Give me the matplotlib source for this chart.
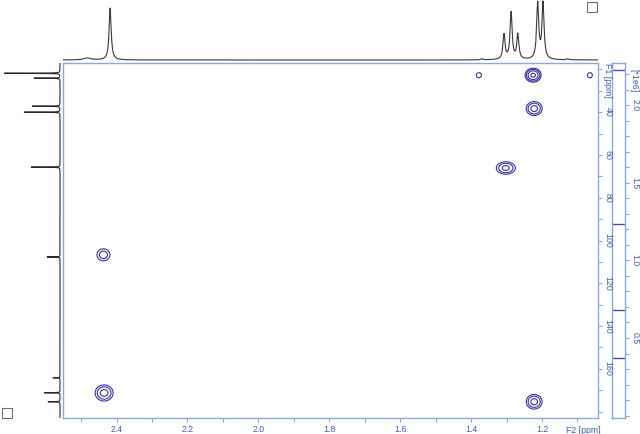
import numpy as np
import matplotlib
matplotlib.use('Agg')
import matplotlib.pyplot as plt
from matplotlib.patches import Rectangle
from matplotlib.ticker import MultipleLocator, FixedLocator

plt.rcParams['font.family'] = ['Liberation Sans', 'DejaVu Sans']

# ---- data ----
# 2D cross peaks
cross_f2 = [1.225, 1.378, 1.065, 1.222, 1.302, 2.437, 2.435, 1.222]
cross_f1 = [22.7, 22.7, 22.7, 38.3, 66.1, 106.7, 171.3, 175.4]
cross_amp = [2.6, 0.6, 0.6, 1.6, 1.5, 1.0, 1.6, 1.6]
cross_sx = [0.0115, 0.0072, 0.0072, 0.0132, 0.016, 0.013, 0.0148, 0.013]
cross_sy = [1.66, 1.2, 1.2, 1.9, 1.75, 2.0, 2.2, 2.0]
contour_levels = [0.371, 0.680, 1.234, 2.226]   # *1e6

# 1H projection (top)
h1_ppm = [2.483, 2.418, 1.369, 1.307, 1.287, 1.268, 1.212, 1.197, 1.127]
h1_height = [2, 52, 1, 25, 47, 25, 56, 56, 1]
h1_width = [0.012, 0.0035, 0.003, 0.0035, 0.0035, 0.0035, 0.0035, 0.0035, 0.003]

# 13C projection (left)
c13_ppm = [21.8, 24.1, 37.2, 40.0, 65.7, 107.7, 164.2, 171.2, 175.4]
c13_height = [56, 26, 28, 36, 29, 13, 7, 16, 12]
c13_width = [0.07] * 9

f2_ticks = [2.4, 2.2, 2.0, 1.8, 1.6, 1.4, 1.2]
f1_ticks = [40, 60, 80, 100, 120, 140, 160]
int_ticks = [0.5, 1.0, 1.5, 2.0]

F2_LIM = (2.551, 1.042)
F1_LIM = (183, 17)
INT_LIM = (-0.015, 2.271)

frame_c = '#8ea6d8'
text_c = '#3f5fae'
cont_c = '#35359c'

W, H = 640, 434
fig = plt.figure(figsize=(W / 100, H / 100), dpi=100)


def px_axes(x0, y0, x1, y1):
    return fig.add_axes([x0 / W, 1 - y1 / H, (x1 - x0) / W, (y1 - y0) / H])


# ---- intensity / level bar (drawn first, transparent) ----
axb = px_axes(612, 63, 625, 418)
axb.patch.set_alpha(0)
axb.set_ylim(*INT_LIM)
axb.set_xlim(0, 1)
for lv in contour_levels:
    axb.axhline(lv, color='#4a4aa8', lw=1.0)
for s in axb.spines.values():
    s.set_color(frame_c)
    s.set_linewidth(1.0)
axb.set_xticks([])
axb.yaxis.tick_right()
axb.yaxis.set_major_locator(FixedLocator(int_ticks))
axb.yaxis.set_minor_locator(MultipleLocator(0.1))
axb.tick_params(axis='y', which='both', direction='out', color=frame_c,
                labelcolor=text_c, labelsize=6.3, length=3, width=0.8, pad=1)
axb.set_yticklabels([f'{t:.1f}' for t in int_ticks], rotation=-90, va='center')
axb.annotate('[*1e6]', xy=(1, 1), xycoords='axes fraction', xytext=(6.5, -13),
             textcoords='offset points', ha='center', va='center', rotation=-90,
             fontsize=6.3, color=text_c, annotation_clip=False)

# ---- main 2D ----
ax = px_axes(63, 63, 598, 418)
ax.patch.set_alpha(0)
xg = np.linspace(1.0, 2.6, 1400)
yg = np.linspace(15, 185, 1000)
X, Y = np.meshgrid(xg, yg)
Z = np.zeros_like(X)
for x0, y0, a, sx, sy in zip(cross_f2, cross_f1, cross_amp, cross_sx, cross_sy):
    Z += a * np.exp(-((X - x0) ** 2) / (2 * sx ** 2) - ((Y - y0) ** 2) / (2 * sy ** 2))
ax.contour(X, Y, Z, levels=contour_levels, colors=cont_c, linewidths=0.8)
ax.set_xlim(*F2_LIM)
ax.set_ylim(*F1_LIM)
for s in ax.spines.values():
    s.set_color(frame_c)
    s.set_linewidth(1.0)
ax.xaxis.set_major_locator(FixedLocator(f2_ticks))
ax.xaxis.set_minor_locator(MultipleLocator(0.1))
ax.yaxis.set_major_locator(FixedLocator(f1_ticks))
ax.yaxis.set_minor_locator(MultipleLocator(10))
ax.yaxis.tick_right()
ax.tick_params(axis='both', which='both', direction='out', color=frame_c,
               labelcolor=text_c, labelsize=6.3, length=3, width=0.8, pad=2)
ax.tick_params(axis='y', which='both', pad=1, length=3)
ax.set_xticklabels([f'{t:.1f}' for t in f2_ticks])
ax.set_yticklabels([f'{t:d}' for t in f1_ticks], rotation=-90, va='center')
ax.annotate('F2 [ppm]', xy=(1.083, 0), xycoords=('data', 'axes fraction'),
            xytext=(0, -9), textcoords='offset points', ha='center', va='center',
            fontsize=6.3, color=text_c, annotation_clip=False)
ax.annotate('F1 [ppm]', xy=(1, 25.0), xycoords=('axes fraction', 'data'),
            xytext=(6.5, 0), textcoords='offset points', ha='center', va='center',
            rotation=-90, fontsize=6.3, color=text_c, annotation_clip=False)

# ---- top 1H projection ----
axt = px_axes(63, 0, 598, 62)
xs = np.linspace(F2_LIM[1], F2_LIM[0], 4000)
spec = np.zeros_like(xs)
for p, h, w in zip(h1_ppm, h1_height, h1_width):
    spec += h * w ** 2 / ((xs - p) ** 2 + w ** 2)
axt.plot(xs, spec, color='#3a3a3a', lw=0.8)
axt.set_xlim(*F2_LIM)
axt.set_ylim(-2, 60)
axt.axis('off')

# ---- left 13C projection ----
axl = px_axes(0, 63, 62, 418)
ys = np.linspace(F1_LIM[1], F1_LIM[0], 8000)
spec2 = np.zeros_like(ys)
for p, h, w in zip(c13_ppm, c13_height, c13_width):
    spec2 += h * w ** 2 / ((ys - p) ** 2 + w ** 2)
axl.plot(spec2, ys, color='#2a2a2a', lw=0.8)
axl.set_ylim(*F1_LIM)
axl.set_xlim(60, -2)
axl.axis('off')

# ---- small squares ----
for (x0, y0) in [(587, 2), (2, 408)]:
    fig.patches.append(Rectangle((x0 / W, 1 - (y0 + 10) / H), 10 / W, 10 / H,
                                 fill=False, edgecolor='#707070', lw=0.8,
                                 transform=fig.transFigure))

fig.savefig('out.png', dpi=100)
